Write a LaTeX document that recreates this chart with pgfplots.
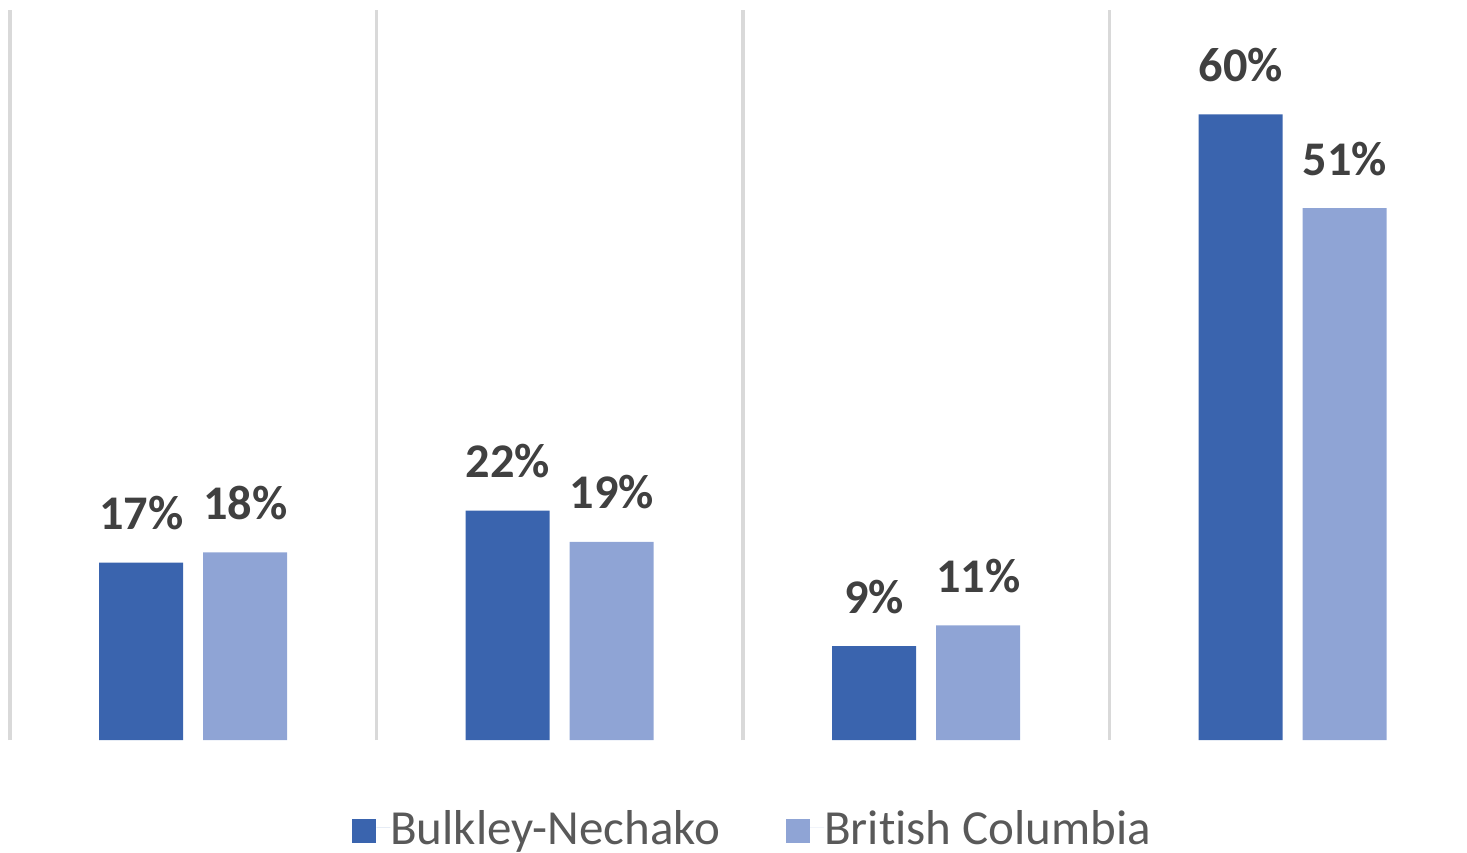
\documentclass[border=0pt]{standalone}
\usepackage{fontspec}
\setmainfont{Carlito}[Ligatures=NoCommon]
\usepackage{pgfplots}
\pgfplotsset{compat=1.18}
\definecolor{darkbar}{HTML}{3A64AE}
\definecolor{lightbar}{HTML}{8FA4D5}
\definecolor{labelgray}{HTML}{404040}
\definecolor{legendgray}{HTML}{595959}
\definecolor{gridgray}{HTML}{D9D9D9}
\begin{document}
\begin{tikzpicture}
\path[use as bounding box] (0,0) rectangle (440.1pt,255.6pt);
\begin{axis}[
    at={(3pt,33.6pt)}, anchor=south west,
    scale only axis,
    width=439.8pt, height=219pt,
    ybar=6pt, bar width=25.2pt,
    xmin=-0.5, xmax=3.5, ymin=0, ymax=70,
    xtick={-0.5,0.5,1.5,2.5,3.5}, xticklabels={},
    ytick=\empty,
    xmajorgrids=true,
    major grid style={gridgray, line width=1.1pt},
    major tick length=0pt,
    axis line style={draw=none},
    clip=false,
    /pgf/number format/assume math mode=true,
    nodes near coords={\pgfmathprintnumber{\pgfplotspointmeta}\%},
    every node near coord/.append style={font=\bfseries\fontsize{14.5}{14.5}\selectfont,
        text=labelgray, inner sep=0pt, anchor=south, yshift=9.6pt},
    legend columns=2,
    legend style={at={(0.506,-0.1438)}, anchor=south, draw=none, fill=none,
        inner sep=0pt,
        nodes={inner sep=0pt, text depth=0pt},
        font=\fontsize{14.7}{14.7}\selectfont, text=legendgray,
        /tikz/every even column/.append style={column sep=19.8pt}},
    legend image code/.code={\fill[#1] (0pt,-4.8pt) rectangle (7.2pt,2.4pt); \path (7.2pt,0) -- (11.4pt,0);},
]
\addplot[fill=darkbar, draw=none] coordinates {(0,17) (1,22) (2,9) (3,60)};
\addplot[fill=lightbar, draw=none] coordinates {(0,18) (1,19) (2,11) (3,51)};
\legend{Bulkley-Nechako, British Columbia}
\end{axis}
\end{tikzpicture}
\end{document}
